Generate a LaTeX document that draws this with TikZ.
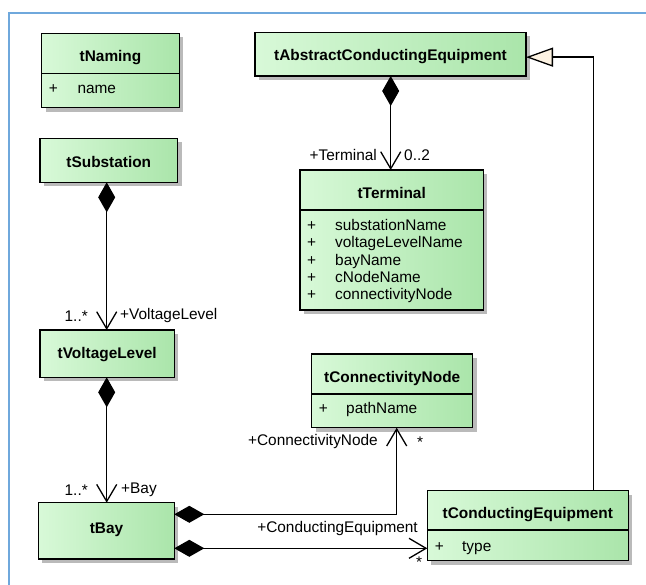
\documentclass[tikz,border=0pt]{standalone}
\usepackage{fontspec}
\setmainfont{Liberation Sans}
\usetikzlibrary{arrows.meta,shadows}
\definecolor{gL}{HTML}{D8F9D8}
\definecolor{gR}{HTML}{AAE5AA}
\definecolor{frameblue}{HTML}{6FA8DC}
\definecolor{tricol}{HTML}{FDF3E3}
\newcommand{\diagfont}{\fontsize{15.4bp}{18bp}\selectfont}
\tikzset{
  cls/.style={draw=black, line width=1.3bp, left color=gL, right color=gR,
    drop shadow={shadow xshift=4bp, shadow yshift=-4bp, fill=black!27, opacity=1},
    anchor=north west, inner sep=0pt, outer sep=0pt},
  ttl/.style={font=\diagfont\bfseries, inner sep=0pt, anchor=base},
  txt/.style={inner sep=0pt, anchor=base west},
  pls/.style={inner sep=0pt, anchor=base},
  lbl/.style={inner sep=0pt},
  dv/.style={line width=1.3bp},
  conn/.style={line width=1.3bp},
  comp/.style={conn, {Diamond[length=30bp,width=17bp,fill=black]}-{Straight Barb[length=17bp,width=20bp,line width=1.3bp]}},
  gen/.style={conn, -{Triangle[length=27bp,width=19bp,fill=tricol,line width=1.3bp]}}
}
\begin{document}
\begin{tikzpicture}[x=1bp,y=-1bp,font=\diagfont]
\useasboundingbox (0,0) rectangle (646,585);
\draw[frameblue, line width=1.6bp] (9,585) -- (9,13) -- (646,13);

% tNaming
\node[cls, minimum width=137.6bp, minimum height=74.4bp] (naming) at (41.7,33.3) {};
\draw[dv] (naming.west |- 0,73.3) -- (naming.east |- 0,73.3);
\node[ttl] (namingT) at (110.5,61.5) {tNaming};
\node[pls] (namingP) at (53.3,93.8) {+};
\node[txt] (namingA) at (77.3,93.8) {name};

% tSubstation
\node[cls, minimum width=137.7bp, minimum height=44bp] (sub) at (40,138.3) {};
\node[ttl] (subT) at (108.8,167.2) {tSubstation};

% tAbstractConductingEquipment
\node[cls, minimum width=271bp, minimum height=43.7bp] (abs) at (255,32.3) {};
\node[ttl] (absT) at (390.5,60.5) {tAbstractConductingEquipment};

% tTerminal
\node[cls, minimum width=183.3bp, minimum height=140bp] (term) at (300,170) {};
\draw[dv] (term.west |- 0,210) -- (term.east |- 0,210);
\node[ttl] (termT) at (391.7,198.8) {tTerminal};
\node[pls] (termP1) at (311.7,230.5) {+};
\node[txt] (termA1) at (335,230.5) {substationName};
\node[pls] (termP2) at (311.7,247.8) {+};
\node[txt] (termA2) at (335,247.8) {voltageLevelName};
\node[pls] (termP3) at (311.7,265.1) {+};
\node[txt] (termA3) at (335,265.1) {bayName};
\node[pls] (termP4) at (311.7,282.4) {+};
\node[txt] (termA4) at (335,282.4) {cNodeName};
\node[pls] (termP5) at (311.7,299.7) {+};
\node[txt] (termA5) at (335,299.7) {connectivityNode};

% tVoltageLevel
\node[cls, minimum width=134.3bp, minimum height=47.3bp] (volt) at (40,330) {};
\node[ttl] (voltT) at (107.2,358.8) {tVoltageLevel};

% tBay
\node[cls, minimum width=136bp, minimum height=56.3bp] (bay) at (38.3,502.7) {};
\node[ttl] (bayT) at (106.5,533.2) {tBay};

% tConnectivityNode
\node[cls, minimum width=161bp, minimum height=73.7bp] (cn) at (311.7,354) {};
\draw[dv] (cn.west |- 0,394) -- (cn.east |- 0,394);
\node[ttl] (cnT) at (392.2,382.2) {tConnectivityNode};
\node[pls] (cnP) at (323.3,413.5) {+};
\node[txt] (cnA) at (346,413.5) {pathName};

% tConductingEquipment
\node[cls, minimum width=201bp, minimum height=70bp] (ce) at (427.3,490.7) {};
\draw[dv] (ce.west |- 0,530) -- (ce.east |- 0,530);
\node[ttl] (ceT) at (527.8,518.2) {tConductingEquipment};
\node[pls] (ceP) at (439.3,551.2) {+};
\node[txt] (ceA) at (462,551.2) {type};

% connectors
\draw[comp] (sub.south -| 106.7,0) -- (volt.north -| 106.7,0);
\node[lbl, anchor=east] (l1) at (88,316) {1..*};
\node[lbl, anchor=west] (l2) at (120,316) {+VoltageLevel};

\draw[comp] (volt.south -| 106.7,0) -- (bay.north -| 106.7,0);
\node[lbl, anchor=east] (l3) at (88,490) {1..*};
\node[lbl, anchor=west] (l4) at (121,490) {+Bay};

\draw[comp] (abs.south -| 390.7,0) -- (term.north -| 390.7,0);
\node[lbl, anchor=east] (l5) at (377,155) {+Terminal};
\node[lbl, anchor=west] (l6) at (404,155) {0..2};

\coordinate (bayU) at ([yshift=-11.6bp]bay.north east);
\coordinate (bayL) at ([yshift=-45.6bp]bay.north east);
\draw[comp] (bayU) -| ([xshift=4.5bp]cn.south);
\node[lbl, anchor=east] (l7) at (378,442) {+ConnectivityNode};
\node[lbl] (l8) at (420,442) {*};

\draw[comp] (bayL) -- (ce.west |- bayL);
\node[lbl, anchor=east] (l9) at (418,529) {+ConductingEquipment};
\node[lbl] (l10) at (419,562) {*};

\draw[gen] ([xshift=65.5bp]ce.north) |- ([yshift=-3bp]abs.east);
\end{tikzpicture}
\end{document}
